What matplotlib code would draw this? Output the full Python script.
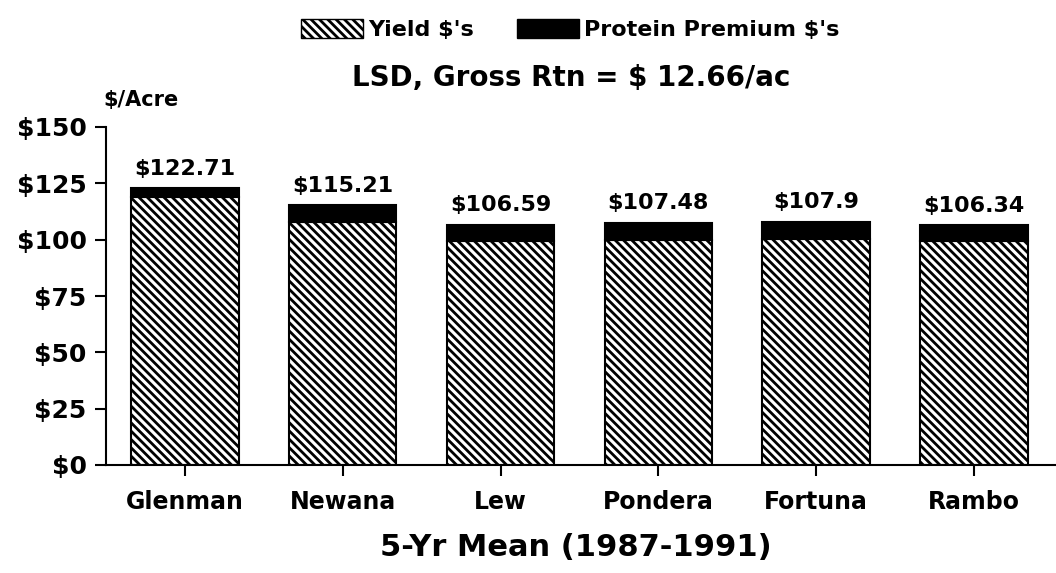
import matplotlib
matplotlib.use("Agg")
import matplotlib.pyplot as plt
from matplotlib.patches import Patch

varieties = ["Glenman", "Newana", "Lew", "Pondera", "Fortuna", "Rambo"]
totals = [122.71, 115.21, 106.59, 107.48, 107.9, 106.34]
yield_dollars = [119.0, 108.0, 99.5, 100.0, 100.3, 99.4]
protein_dollars = [t - y for t, y in zip(totals, yield_dollars)]
total_labels = ["$122.71", "$115.21", "$106.59", "$107.48", "$107.9", "$106.34"]
yticks = [0, 25, 50, 75, 100, 125, 150]
ytick_labels = ["$0", "$25", "$50", "$75", "$100", "$125", "$150"]

plt.rcParams['font.family'] = ['DejaVu Sans']
plt.rcParams['font.weight'] = 'bold'
plt.rcParams['hatch.linewidth'] = 2.0
plt.rcParams['hatch.color'] = 'black'

fig = plt.figure(figsize=(10.56, 5.73), dpi=100)
ax = fig.add_axes([106/1056, 1-465/573, 1-106/1056, (465-127)/573])

x = list(range(len(varieties)))
w = 0.68
ax.bar(x, yield_dollars, width=w, color='white', edgecolor='black',
       hatch='\\' * 4, linewidth=1.5)
ax.bar(x, protein_dollars, bottom=yield_dollars, width=w, color='black',
       edgecolor='black', linewidth=1.5)

for xi, t, lab in zip(x, totals, total_labels):
    ax.annotate(lab, (xi, t), xytext=(0, 7), textcoords='offset points',
                ha='center', va='bottom', fontsize=16, fontweight='bold')

ax.set_xlim(-0.5, 5.52)
ax.set_ylim(0, 150)
ax.set_yticks(yticks)
ax.set_yticklabels(ytick_labels, fontsize=18, fontweight='bold')
ax.set_xticks(x)
ax.set_xticklabels(varieties, fontsize=17, fontweight='bold')
ax.tick_params(axis='y', length=8, width=1.5, pad=6)
ax.tick_params(axis='x', length=8, width=1.5, pad=10)
for s in ['top', 'right']:
    ax.spines[s].set_visible(False)
for s in ['left', 'bottom']:
    ax.spines[s].set_linewidth(1.5)

fig.text(0.545, 0.045, "5-Yr Mean (1987-1991)", ha='center', va='center',
         fontsize=22, fontweight='bold')
fig.text(0.541, 0.864, "LSD, Gross Rtn = $ 12.66/ac", ha='center', va='center',
         fontsize=20, fontweight='bold')
fig.text(103/1056, 1-100/573, "$/Acre", ha='left', va='center',
         fontsize=15, fontweight='bold')

handles = [Patch(facecolor='white', edgecolor='black', hatch='\\' * 4, linewidth=1.0),
           Patch(facecolor='black', edgecolor='black')]
fig.legend(handles, ["Yield $'s", "Protein Premium $'s"], loc='center',
           bbox_to_anchor=(0.54, 0.948), ncol=2, frameon=False,
           prop={'size': 16, 'weight': 'bold'}, handlelength=2.8,
           handleheight=0.9, handletextpad=0.25, columnspacing=1.9)

fig.savefig("out.png", dpi=100, facecolor='white')
